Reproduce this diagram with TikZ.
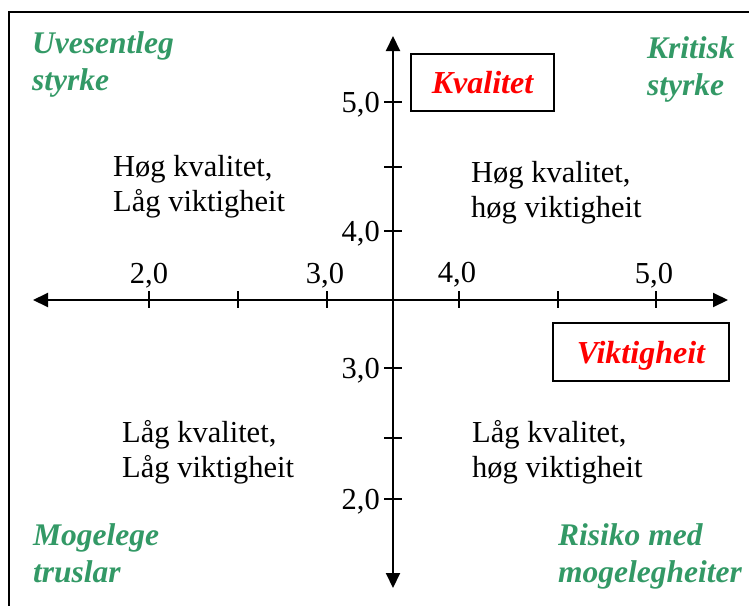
\documentclass[tikz,border=0pt]{standalone}
\usepackage{fontspec}
\setmainfont{Liberation Serif}
\usetikzlibrary{arrows.meta}
\definecolor{quadgreen}{RGB}{51,153,102}
\tikzset{
  axis/.style={line width=2pt, {Triangle[length=15pt,width=14pt]}-{Triangle[length=15pt,width=14pt]}},
  tick/.style={line width=1.6pt},
  lbl/.style={inner sep=0pt, font=\fontsize{30.5}{35}\selectfont},
  quad/.style={lbl, align=left, anchor=base west},
  corner/.style={inner sep=0pt, align=left, anchor=base west, text=quadgreen,
    font=\fontsize{31.5}{37}\selectfont\bfseries\itshape},
  axisbox/.style={draw, line width=2pt, inner sep=0pt, text=red,
    font=\fontsize{32}{35}\selectfont\bfseries\itshape,
    text height=26pt, text depth=4pt},
  ticklbl/.style={lbl, anchor=base},
  yticklbl/.style={lbl, anchor=base east},
}
\begin{document}
\begin{tikzpicture}[x=1pt,y=-1pt]
\useasboundingbox (0,0) rectangle (749,605);
\begin{scope}
  \clip (0,0) rectangle (749,605);
  \draw[line width=2pt] (9,620) -- (9,12) -- (760,12);
\end{scope}

% axes
\coordinate (xl) at (33,300);
\coordinate (xr) at (728,300);
\coordinate (yt) at (393,36);
\coordinate (yb) at (393,588);
\draw[axis] (xl) -- (xr);
\draw[axis] (yb) -- (yt);

% x ticks
\foreach \x in {149,238,327,459,558,656}
  \draw[tick] (\x,291) -- (\x,308);
% y ticks
\foreach \y in {102,167,231,368,438,499}
  \draw[tick] (384,\y) -- (402,\y);

% x tick labels
\node[ticklbl] (x2) at (149,283) {2,0};
\node[ticklbl] (x3) at (325,283) {3,0};
\node[ticklbl] (x4) at (457,282) {4,0};
\node[ticklbl] (x5) at (654,283) {5,0};
% y tick labels
\node[yticklbl] (y5) at (380,112) {5,0};
\node[yticklbl] (y4) at (380,241) {4,0};
\node[yticklbl] (y3) at (380,378) {3,0};
\node[yticklbl] (y2) at (380,509) {2,0};

% axis boxes
\node[axisbox, minimum width=143pt, minimum height=57pt] (kval) at (482.5,82.5) {Kvalitet};
\node[axisbox, minimum width=176pt, minimum height=58pt] (vikt) at (641,352) {Viktigheit};

% quadrant texts (anchor at baseline of last line)
\node[quad] (tl) at (113,211) {Høg kvalitet,\\Låg viktigheit};
\node[quad] (tr) at (471,217) {Høg kvalitet,\\høg viktigheit};
\node[quad] (bl) at (122,477) {Låg kvalitet,\\Låg viktigheit};
\node[quad] (br) at (472,477) {Låg kvalitet,\\høg viktigheit};

% corner labels
\node[corner] (c1) at (32,90) {Uvesentleg\\styrke};
\node[corner] (c2) at (647,95) {Kritisk\\styrke};
\node[corner] (c3) at (33,582) {Mogelege\\truslar};
\node[corner] (c4) at (558,582) {Risiko med\\mogelegheiter};
\end{tikzpicture}
\end{document}
